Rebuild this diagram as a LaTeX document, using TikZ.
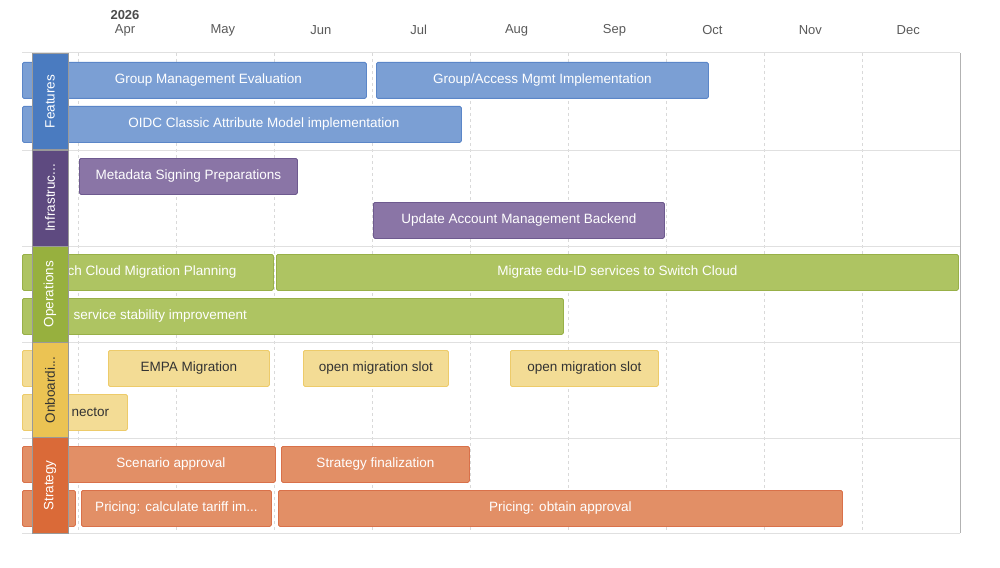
\documentclass[tikz,border=0pt]{standalone}
\usepackage{fontspec}
\setmainfont{Liberation Sans}
\definecolor{featbar}{HTML}{7B9FD4}\definecolor{featline}{HTML}{5B86C8}\definecolor{featlane}{HTML}{4A7BC0}
\definecolor{infbar}{HTML}{8A75A6}\definecolor{infline}{HTML}{6E5A8F}\definecolor{inflane}{HTML}{5E4A80}
\definecolor{opsbar}{HTML}{AEC462}\definecolor{opsline}{HTML}{98B048}\definecolor{opslane}{HTML}{97B03E}
\definecolor{onbbar}{HTML}{F3DC95}\definecolor{onbline}{HTML}{EDCB6A}\definecolor{onblane}{HTML}{EBC353}
\definecolor{strbar}{HTML}{E28F66}\definecolor{strline}{HTML}{D9714A}\definecolor{strlane}{HTML}{DA6A38}
\tikzset{
  task/.style={draw=#1line,fill=#1bar,rounded corners=1.5pt,line width=0.8pt,anchor=north west,
    inner sep=0pt,minimum height=36pt,text=white,font=\fontsize{13.5}{16}\selectfont},
  lane/.style={draw=gray!80,fill=#1lane,rotate=90,minimum width=96pt,minimum height=36pt,inner sep=0pt,
    text=white,font=\fontsize{13.5}{16}\selectfont,line width=0.8pt},
  month/.style={text=black!65,font=\fontsize{13}{15}\selectfont}
}
% #1 name, #2 x1, #3 x2, #4 y, #5 colour, #6 text
\newcommand\taskbox[6]{\pgfmathsetmacro\tw{#3-#2}
  \node[task=#5,minimum width=\tw pt] (#1) at (#2,#4) {#6};}
\begin{document}
\begin{tikzpicture}[x=1pt,y=-1pt]
  \useasboundingbox (0,0) rectangle (1000,567);
  % grid
  \foreach \x in {78,176,274,372,470,568,666,764,862}
    \draw[dashed,black!15,line width=0.8pt] (\x,53) -- (\x,533);
  \foreach \y in {53,150,246,342,438,533}
    \draw[black!12,line width=1pt] (22,\y) -- (960,\y);
  \draw[black!30,line width=0.8pt] (960,53) -- (960,533);
  % months
  \node[font=\bfseries\fontsize{13}{15}\selectfont,text=black!70] (year) at (125,15) {2026};
  \foreach \m [count=\i from 0] in {Apr,May,Jun,Jul,Aug,Sep,Oct,Nov,Dec}
    \node[month] (m\i) at (125+97.9*\i,30) {\m};
  % Features
  \taskbox{gme}{22}{366}{62}{feat}{\hspace*{28pt}Group Management Evaluation}
  \taskbox{gami}{376}{708}{62}{feat}{Group/Access Mgmt Implementation}
  \taskbox{oidc}{22}{461}{106}{feat}{\hspace*{44pt}OIDC Classic Attribute Model implementation}
  % Infrastructure
  \taskbox{msp}{79}{297}{158}{inf}{Metadata Signing Preparations}
  \taskbox{uamb}{373}{664}{202}{inf}{Update Account Management Backend}
  % Operations
  \taskbox{scmp}{22}{273}{254}{ops}{}
  \node[text=white,anchor=west,font=\fontsize{13.5}{16}\selectfont] (scmpt) at (64,272) {ch Cloud Migration Planning};
  \taskbox{mig}{276}{958}{254}{ops}{Migrate edu-ID services to Switch Cloud}
  \taskbox{ssi}{22}{563}{298}{ops}{}
  \node[text=white,anchor=west,font=\fontsize{13.5}{16}\selectfont] (ssit) at (70,316) {service stability improvement};
  % Onboarding
  \taskbox{onbstub}{22}{36}{350}{onb}{}
  \taskbox{empa}{108}{269}{350}{onb}{\color{black!80}EMPA Migration}
  \taskbox{slota}{303}{448}{350}{onb}{\color{black!80}open migration slot}
  \taskbox{slotb}{510}{658}{350}{onb}{\color{black!80}open migration slot}
  \taskbox{conn}{22}{127}{394}{onb}{}
  \node[text=black!80,anchor=west,font=\fontsize{13.5}{16}\selectfont] (connt) at (68,412) {nector};
  % Strategy
  \taskbox{scen}{22}{275}{446}{str}{\hspace*{44pt}Scenario approval}
  \taskbox{sfin}{281}{469}{446}{str}{Strategy finalization}
  \taskbox{strstub}{22}{75}{490}{str}{}
  \taskbox{tariff}{81}{271}{490}{str}{Pricing: calculate tariff im...}
  \taskbox{appr}{278}{842}{490}{str}{Pricing: obtain approval}
  % lanes
  \node[lane=feat] (features) at (50,101.5) {Features};
  \node[lane=inf] (infra) at (50,198) {Infrastruc...};
  \node[lane=ops] (ops) at (50,294) {Operations};
  \node[lane=onb,text=black!80] (onboard) at (50,390) {Onboardi...};
  \node[lane=str] (strategy) at (50,485.5) {Strategy};
\end{tikzpicture}
\end{document}
